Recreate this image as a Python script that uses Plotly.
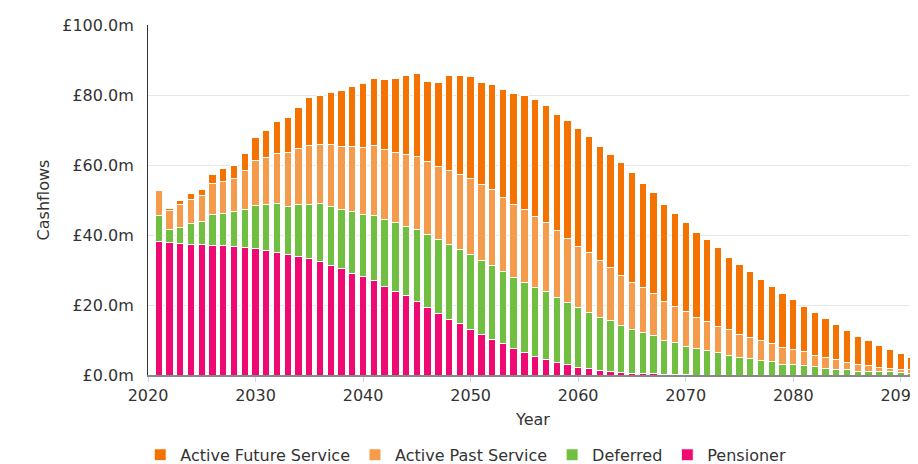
import plotly.graph_objects as go

years = list(range(2021, 2092))

active_future = [
    0.5, 0.8, 1.4, 1.7, 1.7, 2.8, 3.7, 3.6, 5.0, 6.6,
    7.7, 9.2, 10.0, 11.6, 13.8, 14.1, 14.8, 16.0, 17.0, 18.4,
    19.1, 20.1, 21.1, 22.4, 23.7, 23.0, 24.0, 27.2, 28.3, 29.3,
    29.2, 30.1, 30.9, 31.5, 32.5, 33.3, 33.4, 33.1, 33.7, 33.6,
    33.1, 32.8, 32.2, 32.3, 31.4, 29.9, 28.8, 27.7, 26.6, 25.5,
    24.3, 23.2, 22.4, 20.7, 19.9, 18.9, 17.5, 16.2, 15.2, 14.3,
    13.0, 12.2, 11.2, 9.9, 9.0, 7.9, 7.2, 6.4, 5.4, 4.4,
    3.6,
]

active_past = [
    6.9, 5.3, 6.4, 6.8, 7.6, 8.7, 9.3, 9.6, 11.2, 12.7,
    13.4, 14.2, 15.5, 16.1, 16.8, 17.0, 17.7, 18.2, 18.6, 19.0,
    20.0, 20.0, 19.9, 20.7, 20.9, 20.7, 20.9, 21.2, 21.4, 21.6,
    21.7, 21.6, 21.3, 21.0, 20.8, 20.4, 19.7, 19.0, 18.4, 17.5,
    17.0, 16.2, 15.2, 14.2, 13.5, 12.8, 12.1, 11.1, 10.3, 9.9,
    9.0, 8.5, 7.6, 7.4, 6.6, 6.1, 5.7, 5.2, 5.0, 4.4,
    4.0, 3.1, 3.0, 2.7, 2.2, 2.1, 1.5, 1.1, 1.0, 1.0,
    1.0,
]

deferred = [
    7.6, 3.8, 4.6, 6.0, 6.4, 8.9, 9.1, 9.9, 10.8, 12.4,
    13.3, 14.0, 13.7, 14.7, 15.6, 16.6, 17.0, 16.9, 17.7, 17.8,
    18.7, 19.1, 19.7, 19.8, 20.5, 20.9, 21.0, 21.3, 21.2, 21.5,
    21.2, 21.2, 20.6, 20.3, 20.2, 19.8, 19.3, 18.7, 17.8, 17.1,
    16.1, 15.2, 14.6, 13.3, 12.4, 11.7, 10.9, 9.6, 9.1, 8.2,
    7.5, 6.9, 6.3, 5.6, 5.0, 4.7, 4.2, 3.8, 3.0, 2.9,
    2.6, 2.5, 2.0, 1.7, 1.5, 1.0, 1.1, 1.0, 0.9, 0.7,
    0.5,
]

pensioner = [
    38.1, 37.8, 37.6, 37.4, 37.4, 37.0, 37.0, 36.7, 36.4, 36.1,
    35.5, 35.1, 34.5, 33.9, 33.2, 32.3, 31.2, 30.3, 29.0, 28.1,
    27.0, 25.2, 24.0, 22.6, 21.0, 19.3, 17.7, 16.0, 14.6, 13.0,
    11.6, 10.1, 8.9, 7.5, 6.3, 5.2, 4.5, 3.5, 2.9, 2.2,
    1.9, 1.2, 1.0, 0.8, 0.5, 0.4, 0.3, 0.2, 0.1, 0.05,
    0, 0, 0, 0, 0, 0, 0, 0, 0, 0,
    0, 0, 0, 0, 0, 0, 0, 0, 0, 0,
    0,
]

y_ticks = [0, 20, 40, 60, 80, 100]
y_tick_labels = ["£0.0m", "£20.0m", "£40.0m", "£60.0m", "£80.0m", "£100.0m"]
x_ticks = [2020, 2030, 2040, 2050, 2060, 2070, 2080, 2090]

series = [
    ("Pensioner", pensioner, "#EE0A72"),
    ("Deferred", deferred, "#70BF41"),
    ("Active Past Service", active_past, "#F59B4C"),
    ("Active Future Service", active_future, "#F47200"),
]

fig = go.Figure()
for name, vals, col in series:
    fig.add_trace(go.Bar(
        x=years, y=vals, name=name,
        marker=dict(color=col, line=dict(color="white", width=1)),
        width=0.68,
    ))

font_family = "DejaVu Sans"
# page has an 8px body margin, so the figure is sized 910x456
fig.update_layout(
    barmode="stack",
    width=910, height=456,
    margin=dict(l=140, r=0, t=17, b=89, autoexpand=False),
    paper_bgcolor="white", plot_bgcolor="white",
    font=dict(family=font_family, size=16, color="#333333"),
    showlegend=True,
    legend=dict(
        orientation="h", traceorder="reversed",
        xref="container", yref="container",
        x=0.503, xanchor="center", y=0.02, yanchor="middle",
        font=dict(family=font_family, size=16, color="#333333"),
    ),
    xaxis=dict(
        range=[2020, 2091.6],
        tickvals=x_ticks,
        ticktext=[str(v) for v in x_ticks],
        ticks="outside", ticklen=5, tickcolor="#ccd6eb",
        ticklabeloverflow="allow",
        showgrid=False, zeroline=False, automargin=False,
        showline=True, linecolor="#888888", linewidth=2,
        tickfont=dict(size=16, color="#333333"),
        title=dict(text="Year", font=dict(size=16, color="#333333"), standoff=10),
    ),
    yaxis=dict(
        range=[0, 100],
        tickvals=y_ticks, ticktext=y_tick_labels,
        showgrid=True, gridcolor="#e6e6e6", gridwidth=1,
        zeroline=False, automargin=False,
        showline=True, linecolor="#333333", linewidth=1,
        ticks="outside", ticklen=10, tickcolor="rgba(0,0,0,0)",
        tickfont=dict(size=16, color="#333333"),
        title=dict(text="Cashflows", font=dict(size=16, color="#333333"), standoff=8),
    ),
)

fig.write_html("out.html")
